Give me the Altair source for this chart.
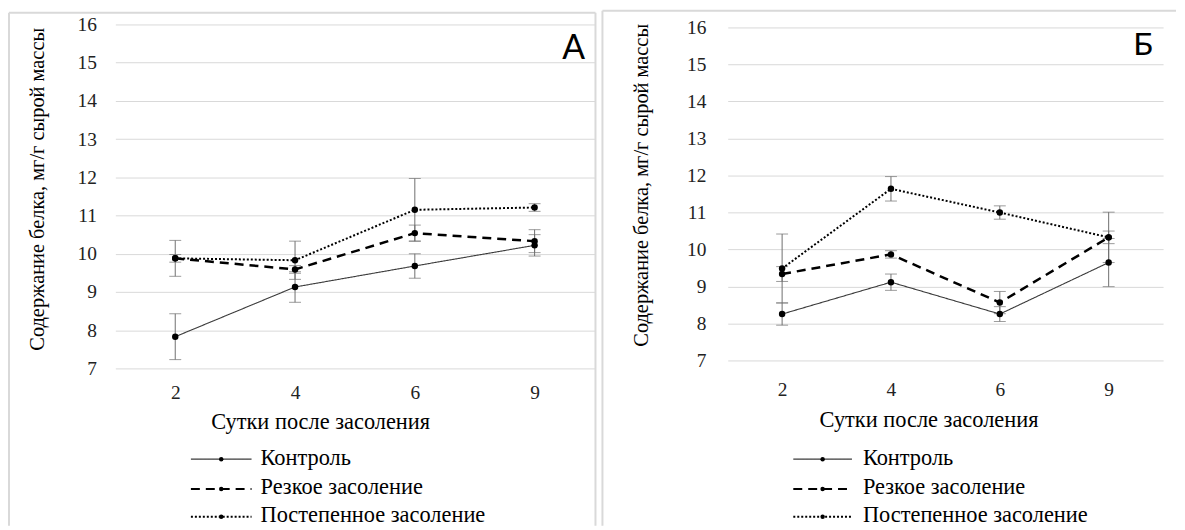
import altair as alt
import pandas as pd

days = ["2", "4", "6", "9"]
names = ["Контроль", "Резкое засоление", "Постепенное засоление"]

# Panel A
a_control = [7.83, 9.13, 9.68, 10.22]
a_control_err = [0.60, 0.40, 0.32, 0.28]
a_sharp = [9.88, 9.59, 10.54, 10.33]
a_sharp_err = [0.47, 0.10, 0.21, 0.30]
a_grad = [9.88, 9.83, 11.15, 11.21]
a_grad_err = [0.10, 0.50, 0.82, 0.10]

# Panel B
b_control = [8.26, 9.12, 8.26, 9.65]
b_control_err = [0.30, 0.22, 0.20, 0.65]
b_sharp = [9.34, 9.87, 8.57, 10.33]
b_sharp_err = [0.20, 0.10, 0.30, 0.68]
b_grad = [9.49, 11.64, 11.00, 10.33]
b_grad_err = [0.93, 0.33, 0.18, 0.17]

y_ticks = list(range(7, 17))
x_title = "Сутки после засоления"
y_title = "Содержание белка,  мг/г сырой массы"

styles = {
    "Контроль": dict(color="#3a3a3a", strokeWidth=1.1, strokeDash=[1, 0]),
    "Резкое засоление": dict(color="#000000", strokeWidth=2.5, strokeDash=[9, 6]),
    "Постепенное засоление": dict(color="#000000", strokeWidth=2, strokeDash=[2, 2]),
}

SERIF = "Liberation Serif"
SANS = "Lato"
FRAME = "#d9d9d9"
ERR = "#6f6f6f"
OY = 22.7  # common plot-origin row (page px)


def series_df(vals, errs, name):
    return pd.DataFrame({
        "day": days,
        "val": vals,
        "lo": [v - e for v, e in zip(vals, errs)],
        "hi": [v + e for v, e in zip(vals, errs)],
        "s": name,
    })


def one():
    return pd.DataFrame({"k": [0]})


def panel(data, letter, g):
    ox, oy, W = g["ox"], OY, g["W"]
    H = g["y7"] - oy
    X = lambda px: alt.value(px - ox)
    Y = lambda py: alt.value(py - oy)

    x_axis = alt.Axis(title=x_title, labelAngle=0, ticks=False, domain=False,
                      grid=False, labelPadding=g["xlp"],
                      titleX=g["xtx"] - ox, titleY=g["xty"] - g["y7"],
                      titleAlign="center", titleBaseline="middle", titleFontSize=22.5)
    y_axis = alt.Axis(title=y_title, values=y_ticks, ticks=False, domain=False,
                      grid=True, labelPadding=g["ylp"], labelOverlap=False,
                      labelBound=False,
                      titleX=g["ytx"] - ox, titleY=g["yty"] - oy, titleFontSize=20.5,
                      titleAngle=-90, titleAlign="center", titleBaseline="middle")
    y_scale = alt.Scale(domain=[7, 16], nice=False, zero=False,
                        range=[H, g["y16"] - oy])
    x_enc = alt.X("day:O", sort=days, scale=alt.Scale(type="point", padding=0.5), axis=x_axis)
    Yf = lambda f: alt.Y(f + ":Q", scale=y_scale, axis=y_axis, title=y_title)

    layers = []
    for name, df in data:
        base = alt.Chart(df)
        layers.append(base.mark_rule(color=ERR, strokeWidth=1).encode(
            x=x_enc, y=Yf("lo"), y2="hi:Q"))
        layers.append(base.mark_tick(color=ERR, size=12, thickness=1).encode(
            x=x_enc, y=Yf("lo")))
        layers.append(base.mark_tick(color=ERR, size=12, thickness=1).encode(
            x=x_enc, y=Yf("hi")))
    for name, df in data:
        st = styles[name]
        base = alt.Chart(df)
        layers.append(base.mark_line(color=st["color"], strokeWidth=st["strokeWidth"],
                                     strokeDash=st["strokeDash"]).encode(x=x_enc, y=Yf("val")))
        layers.append(base.mark_circle(size=42, color="#000000", opacity=1).encode(
            x=x_enc, y=Yf("val")))

    # panel frame
    for (x1, y1, x2, y2) in g["frame"]:
        layers.append(alt.Chart(one()).mark_rule(color=FRAME, strokeWidth=2).encode(
            x=X(x1), x2=X(x2), y=Y(y1), y2=Y(y2)))

    # panel letter
    layers.append(alt.Chart(one()).mark_text(
        text=letter, font=SANS, fontSize=g["lfs"], align="center", baseline="middle",
        color="#000000").encode(x=X(g["lx"]), y=Y(g["ly"])))

    # legend
    lx1, lx2, tx = g["leg_x"]
    for i, name in enumerate(names):
        st = styles[name]
        ry = g["leg_y"][i]
        lb = alt.Chart(pd.DataFrame({"s": [name]}))
        layers.append(lb.mark_rule(color=st["color"], strokeWidth=min(st["strokeWidth"], 2),
                                   strokeDash=st["strokeDash"]).encode(
            x=X(lx1), x2=X(lx2), y=Y(ry)))
        layers.append(lb.mark_circle(size=20, color="#000000", opacity=1).encode(
            x=X((lx1 + lx2) / 2), y=Y(ry)))
        layers.append(lb.mark_text(font=SERIF, fontSize=22.5, align="left",
                                   baseline="middle", color="#000000").encode(
            x=X(tx), y=Y(ry - 1.5), text="s:N"))

    return alt.layer(*layers).properties(width=W, height=H)


geoA = dict(ox=116, W=482, y16=22.7, y7=368.7, xlp=15, ylp=19,
            xtx=322, xty=422, ytx=38, yty=188,
            frame=[(9, 11, 9, 527), (9, 11, 599, 11), (599, 11, 599, 527)],
            lfs=34, lx=577, ly=47,
            leg_x=(192, 253, 262), leg_y=[460, 490, 518])
geoB = dict(ox=727, W=438, y16=25.5, y7=361, xlp=20, ylp=22,
            xtx=929, xty=420, ytx=640, yty=184,
            frame=[(601, 9, 601, 527), (601, 9, 1178, 9)],
            lfs=32, lx=1145, ly=43.5,
            leg_x=(793, 852, 863), leg_y=[460, 490, 518])

dataA = [("Контроль", series_df(a_control, a_control_err, names[0])),
         ("Резкое засоление", series_df(a_sharp, a_sharp_err, names[1])),
         ("Постепенное засоление", series_df(a_grad, a_grad_err, names[2]))]
dataB = [("Контроль", series_df(b_control, b_control_err, names[0])),
         ("Резкое засоление", series_df(b_sharp, b_sharp_err, names[1])),
         ("Постепенное засоление", series_df(b_grad, b_grad_err, names[2]))]

left = panel(dataA, "А", geoA)
right = panel(dataB, "Б", geoB)

chart = alt.hconcat(left, right, spacing=5).properties(padding=0).configure_view(
    stroke=None
).configure_axis(
    labelFont=SERIF, labelFontSize=19.5, labelColor="#222222",
    titleFont=SERIF, titleFontWeight="normal", titleColor="#000000",
    gridColor="#d9d9d9", gridWidth=1,
)

chart.save("out.html", embed_options={"renderer": "svg", "actions": False})
